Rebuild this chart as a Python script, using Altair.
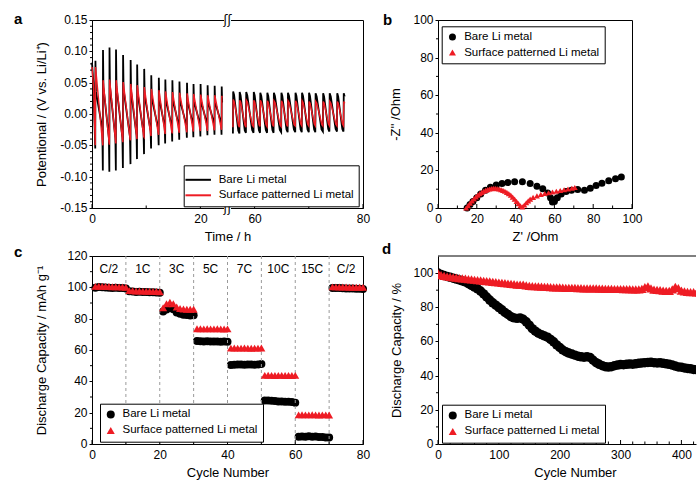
import altair as alt
import pandas as pd

FONT = "Liberation Sans"
BARE = "Bare Li metal"
PAT = "Surface patterned Li metal"
SERIES = [BARE, PAT]
COLORS = ["#000000", "#ee1c24"]
SHAPES = ["circle", "triangle-up"]
LINE_WIDTHS = [1.8, 1.4]

# ---------------- panel a : galvanostatic cycling (values read per cycle) ----------------
A_SHIFT = 30.0                      # axis break: 25 h | 55 h  -> right part drawn 30 h to the left
A_SEG_END_LEFT = 25.0
A_SEG_END_RIGHT = 77.0
A_T_LEFT = [0.6, 2.0, 3.2, 4.4, 5.7, 7.1, 8.3, 9.6, 10.9, 12.3, 13.5, 14.8, 16.1, 17.5, 18.7, 20.0, 21.3, 22.6, 23.9]
A_BLACK_UP_LEFT = [0.085, 0.102, 0.106, 0.103, 0.094, 0.086, 0.079, 0.072, 0.062, 0.058, 0.055, 0.054, 0.052, 0.050, 0.048, 0.048, 0.046, 0.045, 0.044]
A_BLACK_LO_LEFT = [-0.055, -0.090, -0.092, -0.090, -0.086, -0.080, -0.072, -0.064, -0.055, -0.050, -0.047, -0.044, -0.041, -0.038, -0.037, -0.036, -0.034, -0.033, -0.033]
A_RED_UP_LEFT = [0.075, 0.054, 0.055, 0.054, 0.051, 0.048, 0.046, 0.043, 0.040, 0.038, 0.036, 0.035, 0.034, 0.033, 0.032, 0.031, 0.030, 0.030, 0.029]
A_RED_LO_LEFT = [-0.050, -0.050, -0.049, -0.047, -0.045, -0.042, -0.040, -0.037, -0.035, -0.033, -0.032, -0.031, -0.030, -0.029, -0.028, -0.027, -0.027, -0.026, -0.025]
A_T_RIGHT = [56.0, 57.2, 58.4, 59.8, 61.0, 62.3, 63.5, 64.9, 66.1, 67.5, 68.7, 70.0, 71.2, 72.6, 73.8, 75.2, 76.4]
A_BLACK_UP_RIGHT = [0.036, 0.035, 0.035, 0.035, 0.034, 0.034, 0.034, 0.034, 0.034, 0.034, 0.034, 0.034, 0.033, 0.033, 0.033, 0.033, 0.033]
A_BLACK_LO_RIGHT = [-0.031, -0.031, -0.030, -0.030, -0.030, -0.030, -0.030, -0.029, -0.029, -0.029, -0.029, -0.029, -0.029, -0.028, -0.028, -0.028, -0.028]
A_RED_UP_RIGHT = [0.023, 0.022, 0.022, 0.022, 0.022, 0.021, 0.021, 0.021, 0.021, 0.021, 0.021, 0.020, 0.020, 0.020, 0.020, 0.020, 0.020]
A_RED_LO_RIGHT = [-0.021, -0.021, -0.021, -0.020, -0.020, -0.020, -0.020, -0.020, -0.020, -0.019, -0.019, -0.019, -0.019, -0.019, -0.019, -0.019, -0.019]
A_BLACK_START = [(0.0, 0.082), (0.25, 0.050)]
A_RED_START = [(0.0, 0.075), (0.3, 0.040)]
# waveform shape within one cycle: (phase, which peak, fraction of that peak)
A_SHAPE_BLACK_LEFT = [(0.0, "lo", 1.0), (0.025, "up", 1.0), (0.09, "up", 0.42), (0.93, "lo", 0.42)]
A_SHAPE_BLACK_RIGHT = [(0.0, "lo", 1.0), (0.04, "up", 1.0), (0.18, "up", 0.85), (0.82, "lo", 0.85)]
A_SHAPE_RED_LEFT = [(0.0, "lo", 1.0), (0.04, "up", 1.0), (0.10, "up", 0.9), (0.95, "lo", 0.9)]
A_SHAPE_RED_RIGHT = [(0.0, "lo", 1.0), (0.05, "up", 1.0), (0.20, "up", 0.85), (0.85, "lo", 0.85)]
A_XTICK_REAL = [0, 20, 60, 80]
A_XMINOR_REAL = [10, 70]
A_YTICKS = [-0.15, -0.10, -0.05, 0.0, 0.05, 0.10, 0.15]

# ---------------- panel b : Nyquist ----------------
B_BARE_X = [15.0, 16.5, 18.0, 20.0, 22.0, 24.5, 27.0, 30.0, 33.0, 36.0, 39.5, 43.5, 47.5, 51.0, 54.0, 56.5, 58.0, 59.0, 60.0, 61.5, 63.5, 66.0, 68.8, 72.0, 75.5, 78.5, 81.5, 84.5, 88.0, 91.5, 94.5]
B_BARE_Y = [0.0, 1.8, 3.5, 5.5, 7.5, 9.5, 11.0, 12.2, 13.0, 13.6, 14.0, 14.0, 13.0, 11.6, 10.2, 8.0, 5.5, 3.2, 3.5, 5.5, 7.5, 8.8, 9.4, 9.8, 9.5, 10.5, 12.0, 13.2, 14.5, 15.6, 16.5]
B_PAT_X = [14.5, 15.5, 16.5, 17.5, 18.5, 19.5, 20.5, 21.5, 22.5, 23.5, 24.5, 25.5, 26.5, 27.5, 28.5, 29.5, 30.5, 31.5, 32.5, 33.5,
           34.5, 35.5, 36.5, 37.5, 38.5, 39.5, 40.5, 41.5, 42.5, 43.5, 44.5, 45.5, 46.5, 47.5, 49.0, 51.0, 53.0, 55.0, 57.0, 59.0,
           61.0, 63.0, 65.0, 67.0, 69.0, 70.5]
B_PAT_Y = [0.0, 1.3, 2.6, 3.8, 4.9, 5.9, 6.8, 7.6, 8.3, 8.9, 9.4, 9.8, 10.1, 10.3, 10.4, 10.4, 10.3, 10.1, 9.8, 9.4,
           8.9, 8.3, 7.6, 6.8, 5.8, 4.7, 3.5, 2.3, 1.2, 0.6, 1.6, 2.8, 3.8, 4.7, 5.6, 6.5, 7.2, 7.7, 8.1, 8.5,
           8.9, 9.3, 9.7, 10.1, 10.5, 10.9]
B_TICKS = [0, 20, 40, 60, 80, 100]
B_MINOR = [10, 30, 50, 70, 90]

# ---------------- panel c : rate capability ----------------
C_CYCLE = list(range(1, 81))
C_BARE = [99.8, 100.2, 100.1, 99.9, 99.8, 99.6, 99.7, 99.5, 99.5, 99.2,
          97.5, 97.3, 97.1, 97.2, 97.0, 97.0, 96.9, 96.8, 96.7, 96.6,
          84.5, 85.8, 87.0, 86.0, 84.0, 83.2, 82.5, 82.3, 82.0, 82.2,
          65.8, 65.6, 65.5, 65.6, 65.5, 65.4, 65.5, 65.3, 65.4, 65.2,
          50.5, 50.6, 50.8, 50.7, 50.6, 50.8, 50.7, 50.6, 50.8, 51.0,
          27.8, 27.8, 27.6, 27.4, 27.2, 27.2, 27.0, 26.9, 26.8, 26.4,
          4.6, 4.8, 4.7, 5.0, 4.6, 4.8, 4.5, 4.4, 4.2, 4.1,
          99.5, 99.6, 99.5, 99.4, 99.3, 99.3, 99.2, 99.1, 99.1, 99.0]
C_PAT = [100.6, 100.7, 100.6, 100.5, 100.5, 100.4, 100.4, 100.3, 100.2, 100.1,
         97.9, 97.8, 97.7, 97.7, 97.6, 97.5, 97.5, 97.4, 97.3, 97.2,
         87.0, 89.5, 90.5, 89.5, 87.5, 86.5, 86.2, 86.0, 86.0, 86.0,
         73.6, 73.6, 73.5, 73.6, 73.5, 73.5, 73.6, 73.5, 73.4, 73.5,
         61.2, 61.3, 61.2, 61.2, 61.3, 61.2, 61.1, 61.2, 61.2, 61.3,
         43.8, 43.9, 43.8, 43.7, 43.8, 43.8, 43.7, 43.8, 43.7, 43.8,
         18.6, 18.7, 18.6, 18.6, 18.7, 18.6, 18.5, 18.6, 18.6, 18.5,
         100.3, 100.3, 100.2, 100.2, 100.2, 100.1, 100.1, 100.1, 100.0, 100.0]
C_RATES = ["C/2", "1C", "3C", "5C", "7C", "10C", "15C", "C/2"]
C_RATE_X = [5, 15, 25, 35, 45, 55, 65, 75]
C_RATE_Y = 112
C_BOUNDS = [10, 20, 30, 40, 50, 60, 70]
C_XTICKS = [0, 20, 40, 60, 80]
C_XMINOR = [10, 30, 50, 70]
C_YTICKS = [0, 20, 40, 60, 80, 100, 120]
C_YMINOR = [10, 30, 50, 70, 90, 110]

# ---------------- panel d : long cycling (every 5 cycles) ----------------
D_CYCLE = list(range(0, 445, 5))
D_BARE = [100.0, 99.2, 98.6, 98.0, 97.5, 97.0, 96.5, 96.0, 95.4, 94.8,
          93.8, 92.8, 91.8, 90.8, 89.5, 87.8, 86.0, 84.2, 82.6, 81.2,
          79.8, 78.5, 77.0, 75.8, 74.5, 73.8, 73.5, 73.8, 73.0, 71.5,
          69.5, 67.5, 66.0, 64.8, 64.0, 63.2, 62.5, 61.2, 59.8, 58.0,
          56.5, 55.0, 54.0, 53.2, 52.6, 52.0, 51.4, 51.0, 50.8, 51.0,
          50.6, 49.0, 47.6, 46.6, 45.8, 45.2, 45.0, 45.2, 45.8, 46.2,
          46.5, 46.4, 46.6, 46.8, 46.7, 46.9, 47.2, 47.4, 47.6, 47.7,
          47.8, 47.6, 47.4, 47.5, 47.2, 46.9, 46.6, 46.2, 45.6, 45.1,
          44.9, 44.5, 44.2, 44.0, 43.6, 43.5, 43.4, 43.3, 43.2]
D_PAT = [100.0, 98.8, 98.4, 98.0, 97.8, 97.5, 97.3, 97.1, 96.9, 96.7,
         96.5, 96.3, 96.1, 95.9, 95.7, 95.5, 95.3, 95.1, 94.9, 94.7,
         94.5, 94.3, 94.1, 93.9, 93.7, 93.5, 93.3, 93.2, 93.3, 92.8,
         92.5, 92.4, 92.3, 92.2, 92.1, 92.0, 91.9, 91.8, 91.7, 91.6,
         91.6, 91.5, 91.4, 91.4, 91.3, 91.3, 91.2, 91.2, 91.1, 91.1,
         91.0, 91.0, 91.0, 90.9, 90.9, 90.8, 90.8, 90.8, 90.7, 90.7,
         90.7, 90.6, 90.6, 90.6, 90.5, 90.5, 90.5, 90.8, 91.8, 92.2,
         91.0, 90.3, 90.2, 90.0, 89.8, 89.6, 89.6, 90.5, 92.0, 91.2,
         89.8, 89.3, 89.0, 88.9, 88.8, 88.7, 88.6, 88.5, 88.4]
D_XTICKS = [0, 100, 200, 300, 400]
D_XMINOR = [20, 40, 60, 80, 120, 140, 160, 180, 220, 240, 260, 280, 320, 340, 360, 380, 420]
D_YTICKS = [0, 20, 40, 60, 80, 100]
D_YMINOR = [10, 30, 50, 70, 90]

W_A, W_B, W_C, W_D, H = 271, 194, 271, 258, 188


# ---------------- helpers ----------------
def wave(times, ups, los, shape, seg_end, offset, series, seg, start=()):
    rows = [(t - offset, v) for t, v in start]
    for i, t in enumerate(times):
        p = times[i + 1] - t if i + 1 < len(times) else t - times[i - 1]
        for ph, part, frac in shape:
            tt = t + ph * p
            if tt > seg_end:
                break
            rows.append((tt - offset, frac * (ups[i] if part == "up" else los[i])))
    return [dict(t=t, v=v, series=series, seg=seg, idx=k) for k, (t, v) in enumerate(rows)]


def letter(ch, dx, dy):
    return alt.Chart(pd.DataFrame({"s": [ch]})).mark_text(
        font=FONT, fontSize=15, fontWeight="bold", align="left", baseline="alphabetic", color="black"
    ).encode(text="s:N", x=alt.value(dx), y=alt.value(dy))


def legend(x, y, **kw):
    base = dict(title=None, orient="none", legendX=x, legendY=y, direction="vertical",
                strokeColor="black", fillColor="white", padding=5, labelFont=FONT,
                labelFontSize=11.5, labelColor="black", symbolSize=55, rowPadding=3, labelOffset=6)
    base.update(kw)
    return alt.Legend(**base)


def xenc(field, domain, title, values, label_expr=None, **kw):
    extra = dict(labelExpr=label_expr) if label_expr else {}
    return alt.X(f"{field}:Q", scale=alt.Scale(domain=domain, nice=False, zero=False),
                 axis=alt.Axis(title=title, values=values, tickSize=0, labelPadding=5, titlePadding=6,
                               labelFlush=False, labelOverlap=False, **extra, **kw))


def yenc(field, domain, title, values, title_x):
    # tick labels are drawn as text marks (see ylabels); the axis keeps domain line, ticks and title
    return alt.Y(f"{field}:Q", scale=alt.Scale(domain=domain, nice=False, zero=False),
                 axis=alt.Axis(title=title, values=values, tickSize=3, labels=False,
                               titleX=title_x, titleBaseline="middle", titleAngle=270))


def xticks(xe, field, values, h, size):
    # inward tick marks on the bottom axis
    return alt.Chart(pd.DataFrame({field: values})).mark_rule(color="black", strokeWidth=1).encode(
        x=xe, y=alt.value(h - size), y2=alt.value(h))


def yticks(ye, field, values, size=2):
    # short outward minor ticks on the left axis
    return alt.Chart(pd.DataFrame({field: values})).mark_rule(color="black", strokeWidth=1).encode(
        y=ye, x=alt.value(-size), x2=alt.value(0))


def ylabels(ye, field, values, texts):
    return alt.Chart(pd.DataFrame({field: values, "lab": texts})).mark_text(
        font=FONT, fontSize=12, color="black", align="right", baseline="middle"
    ).encode(y=ye, x=alt.value(-4.5), text="lab:N")


color_scale = alt.Scale(domain=SERIES, range=COLORS)
shape_scale = alt.Scale(domain=SERIES, range=SHAPES)

# ---------------- panel a ----------------
rows_a = []
rows_a += wave(A_T_LEFT, A_BLACK_UP_LEFT, A_BLACK_LO_LEFT, A_SHAPE_BLACK_LEFT, A_SEG_END_LEFT, 0, BARE, "bL", A_BLACK_START)
rows_a += wave(A_T_RIGHT, A_BLACK_UP_RIGHT, A_BLACK_LO_RIGHT, A_SHAPE_BLACK_RIGHT, A_SEG_END_RIGHT, A_SHIFT, BARE, "bR")
rows_a += wave(A_T_LEFT, A_RED_UP_LEFT, A_RED_LO_LEFT, A_SHAPE_RED_LEFT, A_SEG_END_LEFT, 0, PAT, "rL", A_RED_START)
rows_a += wave(A_T_RIGHT, A_RED_UP_RIGHT, A_RED_LO_RIGHT, A_SHAPE_RED_RIGHT, A_SEG_END_RIGHT, A_SHIFT, PAT, "rR")
df_a = pd.DataFrame(rows_a)

a_disp = [v if v < 55 else v - A_SHIFT for v in A_XTICK_REAL]
a_minor = [v if v < 55 else v - A_SHIFT for v in A_XMINOR_REAL]
a_label_expr = " : ".join(f"datum.value == {d:g} ? '{r}'" for d, r in zip(a_disp, A_XTICK_REAL)) + " : ''"
a_yminor = [round(-0.15 + 0.01 * k, 2) for k in range(31) if k % 5 != 0]

a_x = xenc("t", [0, 50], "Time / h", a_disp, a_label_expr)
a_y = yenc("v", [-0.15, 0.15], "Potentional / (V vs. Li/Li\u207a)", A_YTICKS, -51)
lines_a = alt.Chart(df_a).mark_line().encode(
    x=a_x, y=a_y,
    color=alt.Color("series:N", scale=color_scale,
                    legend=legend(91.7, 145.3, symbolType="M-1.5,0H1.5", symbolSize=289,
                                  symbolStrokeWidth=2, rowPadding=0.5, labelOffset=11)),
    strokeWidth=alt.StrokeWidth("series:N", scale=alt.Scale(domain=SERIES, range=LINE_WIDTHS), legend=None),
    detail="seg:N",
    order="idx:Q",
)
brk = pd.DataFrame({"t": [A_SEG_END_LEFT, A_SEG_END_LEFT], "v": [0.15, -0.15], "s": ["\u0283\u0283", "\u0283\u0283"]})
gap_top = alt.Chart(brk.iloc[:1]).mark_rule(color="white", strokeWidth=7).encode(x=a_x, y=alt.value(-4), y2=alt.value(4))
gap_bot = alt.Chart(brk.iloc[1:]).mark_rule(color="white", strokeWidth=7).encode(x=a_x, y=alt.value(H - 4), y2=alt.value(H + 4))
brk_txt = alt.Chart(brk).mark_text(font="DejaVu Sans", fontSize=12, baseline="middle", align="center", color="black").encode(
    x=a_x, y=a_y, text="s:N")
panel_a = alt.layer(
    lines_a, xticks(a_x, "t", a_disp, H, 4), xticks(a_x, "t", a_minor, H, 2.5), yticks(a_y, "v", a_yminor),
    ylabels(a_y, "v", A_YTICKS, [f"{v:.2f}" for v in A_YTICKS]),
    gap_top, gap_bot, brk_txt, letter("a", -78, 4)
).properties(width=W_A, height=H)

# ---------------- panel b ----------------
df_b = pd.DataFrame(
    [dict(x=x, y=y, series=BARE) for x, y in zip(B_BARE_X, B_BARE_Y)]
    + [dict(x=x, y=y, series=PAT) for x, y in zip(B_PAT_X, B_PAT_Y)]
)
b_x = xenc("x", [0, 100], "Z' /Ohm", B_TICKS)
b_y = yenc("y", [0, 100], "-Z'' /Ohm", B_TICKS, -43)
b_leg = legend(3.7, 6.3, symbolSize=49, rowPadding=2.5)
pts_b1 = alt.Chart(df_b[df_b.series == BARE]).mark_point(filled=True, opacity=1, size=49).encode(
    x=b_x, y=b_y, color=alt.Color("series:N", scale=color_scale, legend=b_leg),
    shape=alt.Shape("series:N", scale=shape_scale, legend=b_leg))
pts_b2 = alt.Chart(df_b[df_b.series == PAT]).mark_point(filled=True, opacity=1, size=36).encode(
    x=b_x, y=b_y, color=alt.Color("series:N", scale=color_scale, legend=b_leg),
    shape=alt.Shape("series:N", scale=shape_scale, legend=b_leg))
panel_b = alt.layer(
    pts_b1, pts_b2, xticks(b_x, "x", B_TICKS, H, 4), xticks(b_x, "x", B_MINOR, H, 2.5), yticks(b_y, "y", B_MINOR),
    ylabels(b_y, "y", B_TICKS, [str(v) for v in B_TICKS]), letter("b", -55, 5)
).properties(width=W_B, height=H)

# ---------------- panel c ----------------
df_c = pd.DataFrame(
    [dict(x=c, y=v, series=BARE) for c, v in zip(C_CYCLE, C_BARE)]
    + [dict(x=c, y=v, series=PAT) for c, v in zip(C_CYCLE, C_PAT)]
)
c_x = xenc("x", [0, 80], "Cycle Number", C_XTICKS)
c_y = yenc("y", [0, 120], "Discharge Capacity / mAh g\u207b\u00b9", C_YTICKS, -51)
c_leg = legend(8, 147.7, symbolSize=64, rowPadding=3)
rules_c = alt.Chart(pd.DataFrame({"x": C_BOUNDS})).mark_rule(color="#9a9a9a", strokeDash=[3, 3], strokeWidth=1).encode(x=c_x)
rate_c = alt.Chart(pd.DataFrame({"x": C_RATE_X, "y": [C_RATE_Y] * len(C_RATES), "s": C_RATES})).mark_text(
    font=FONT, fontSize=12, color="black", baseline="middle", align="center").encode(x=c_x, y=c_y, text="s:N")
pts_c1 = alt.Chart(df_c[df_c.series == BARE]).mark_point(filled=True, opacity=1, size=64).encode(
    x=c_x, y=c_y, color=alt.Color("series:N", scale=color_scale, legend=c_leg),
    shape=alt.Shape("series:N", scale=shape_scale, legend=c_leg))
pts_c2 = alt.Chart(df_c[df_c.series == PAT]).mark_point(filled=True, opacity=1, size=64).encode(
    x=c_x, y=c_y, color=alt.Color("series:N", scale=color_scale, legend=c_leg),
    shape=alt.Shape("series:N", scale=shape_scale, legend=c_leg))
panel_c = alt.layer(
    pts_c1, rules_c, pts_c2, rate_c, xticks(c_x, "x", C_XTICKS, H, 4), xticks(c_x, "x", C_XMINOR, H, 2.5),
    yticks(c_y, "y", C_YMINOR), ylabels(c_y, "y", C_YTICKS, [str(v) for v in C_YTICKS]), letter("c", -78, 1)
).properties(width=W_C, height=H)

# ---------------- panel d ----------------
df_d = pd.DataFrame(
    [dict(x=c, y=v, series=BARE) for c, v in zip(D_CYCLE, D_BARE)]
    + [dict(x=c, y=v, series=PAT) for c, v in zip(D_CYCLE, D_PAT)]
)
d_x = xenc("x", [0, 424], "Cycle Number", D_XTICKS, titleX=137)
d_y = yenc("y", [0, 110], "Discharge Capacity / %", D_YTICKS, -42)
d_leg = legend(4, 148.7, symbolSize=64, rowPadding=3)
pts_d1 = alt.Chart(df_d[df_d.series == BARE]).mark_point(filled=True, opacity=1, size=90, clip=True).encode(
    x=d_x, y=d_y, color=alt.Color("series:N", scale=color_scale, legend=d_leg),
    shape=alt.Shape("series:N", scale=shape_scale, legend=d_leg))
pts_d2 = alt.Chart(df_d[df_d.series == PAT]).mark_point(filled=True, opacity=1, size=90, clip=True).encode(
    x=d_x, y=d_y, color=alt.Color("series:N", scale=color_scale, legend=d_leg),
    shape=alt.Shape("series:N", scale=shape_scale, legend=d_leg))
top_d = alt.Chart(pd.DataFrame({"y": [110]})).mark_rule(color="black", strokeWidth=1).encode(y=d_y)
panel_d = alt.layer(
    pts_d1, pts_d2, top_d, xticks(d_x, "x", D_XTICKS, H, 4), xticks(d_x, "x", D_XMINOR, H, 2.5),
    yticks(d_y, "y", D_YMINOR), ylabels(d_y, "y", D_YTICKS, [str(v) for v in D_YTICKS]), letter("d", -56, -2)
).properties(width=W_D, height=H, view=alt.ViewBackground(strokeOpacity=0))

chart = alt.concat(
    panel_a, panel_b, panel_c, panel_d, columns=2,
    spacing=alt.RowColnumber(row=48, column=75), bounds="flush",
).resolve_scale(
    color="independent", shape="independent", x="independent", y="independent"
).properties(
    padding={"left": 13, "top": 11, "right": 0, "bottom": 0}
).configure(
    font=FONT
).configure_axis(
    labelFont=FONT, titleFont=FONT, labelFontSize=12, titleFontSize=13, titleFontWeight="normal",
    labelColor="black", titleColor="black", domainColor="black", tickColor="black", grid=False,
    tickWidth=1, domainWidth=1,
).configure_view(stroke="black", strokeWidth=1)

chart.save("out.html", embed_options={"renderer": "svg", "actions": False})
